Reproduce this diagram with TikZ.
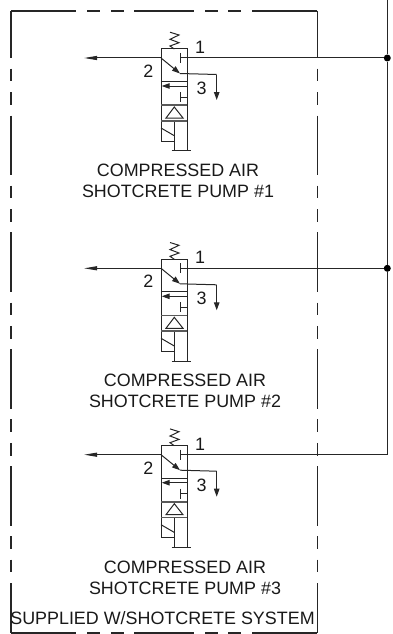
\documentclass[tikz,border=0pt]{standalone}
\usepackage{fontspec}
\setmainfont{Liberation Sans}
\usetikzlibrary{arrows.meta}

\begin{document}
\begin{tikzpicture}
[x=1pt,y=-1pt,
  linedecorate/.style={-,line width=1pt,draw=black!85},%
  bardecorate/.style={-,line width=1.6pt,draw=black!65},%
  sidedecorate/.style={linedecorate,line width=1.2pt,dash pattern=on 59.4pt off 10.7pt on 12.7pt off 10.7pt on 12.7pt off 10.7pt,dash phase=12.4pt},%
  flatdecorate/.style={linedecorate,line width=1.2pt,dash pattern=on 65pt off 11pt on 13pt off 11pt on 13pt off 10pt on 60pt off 11pt on 13pt off 10pt on 13pt off 11pt on 65pt},%
  junctiondecorate/.style={shape=circle,inner sep=0pt,minimum size=7pt,fill=black},%
  textdecorate/.style={font=\fontsize{17.9}{21}\selectfont,align=center,text=black!90,inner sep=0pt},%
  longtip/.style={-{Triangle[length=13pt,width=4pt]}},%
  shorttip/.style={-{Triangle[length=8pt,width=5.5pt]}}]
\useasboundingbox (0,0) rectangle (393,634);
%% supplied system border
\coordinate (boxnw) at (11,11);
\coordinate (boxne) at (317.5,11);
\coordinate (boxsw) at (11,633);
\coordinate (boxse) at (317.5,633);
\draw[flatdecorate] (boxnw) -- (boxne);
\draw[flatdecorate] (boxsw) -- (boxse);
\draw[sidedecorate] (boxnw) -- (boxsw);
\draw[sidedecorate] (boxne) -- (boxse);
\node (system) at (162.5,618.5) [textdecorate] {SUPPLIED W/SHOTCRETE SYSTEM};
%% valves
\foreach \valvename/\y/\textx in {1/58/178, 2/268.3/185, 3/454.7/185}
{
  \begin{scope}[shift={(0,\y)}]
    \coordinate (out\valvename) at (84,0);
    \coordinate (port\valvename) at (161,0);
    \coordinate (stop\valvename) at (180,0);
    \coordinate (vent\valvename) at (180,15.5);
    \coordinate (bend\valvename) at (216.7,16.5);
    \coordinate (exhaust\valvename) at (216.7,42);
    \coordinate (feed\valvename) at (387.3,0);
    %% valve body
    \draw[linedecorate] (161,-9) rectangle (187.3,23.5);
    \draw[linedecorate] (161,23.5) -- (161,83) -- (174.3,83);
    \draw[linedecorate] (187.3,23.5) -- (187.3,92.7);
    \draw[linedecorate] (174.3,62.7) -- (174.3,92.7);
    \draw[linedecorate] (171.7,92.7) -- (190.7,92.7);
    \draw[linedecorate] (161,70) -- (174.3,77.7);
    \draw[bardecorate] (161,47) -- (187.3,47);
    \draw[bardecorate] (161,62.7) -- (187.3,62.7);
    \draw[linedecorate] (174.3,49) -- (183,60) -- (166,60) -- cycle;
    %% spring
    \draw[linedecorate] (170,-25.8) -- (179,-23) -- (170,-18.7) -- (179,-15.3) -- (170,-12) -- (174.3,-9);
    %% stops
    \draw[linedecorate] (180,-5) -- (180,5);
    \draw[linedecorate] (180,34) -- (180,44);
    \draw[linedecorate] (180,39) -- (187.3,39);
    %% flow lines
    \draw[linedecorate,longtip] (port\valvename) -- (out\valvename);
    \draw[linedecorate] (stop\valvename) -- (feed\valvename);
    \draw[linedecorate,shorttip] (port\valvename) -- (vent\valvename);
    \draw[linedecorate] (vent\valvename) -- (bend\valvename);
    \draw[linedecorate,shorttip] (bend\valvename) -- (exhaust\valvename);
    \draw[linedecorate,shorttip] (187.3,28) -- (161.7,28);
    %% labels
    \node (one\valvename) at (200,-10.7) [textdecorate] {1};
    \node (two\valvename) at (148.3,13.2) [textdecorate] {2};
    \node (three\valvename) at (201.7,30.2) [textdecorate] {3};
    \node (pump\valvename) at (\textx,123) [textdecorate] {COMPRESSED AIR\\SHOTCRETE PUMP \#\valvename};
  \end{scope}
}
%% supply line
\coordinate (supply) at (387.3,0);
\node (tee1) at (feed1) [junctiondecorate] {};
\node (tee2) at (feed2) [junctiondecorate] {};
\draw[linedecorate] (supply) -- (tee1) -- (tee2) -- (feed3);
\end{tikzpicture}
\end{document}
